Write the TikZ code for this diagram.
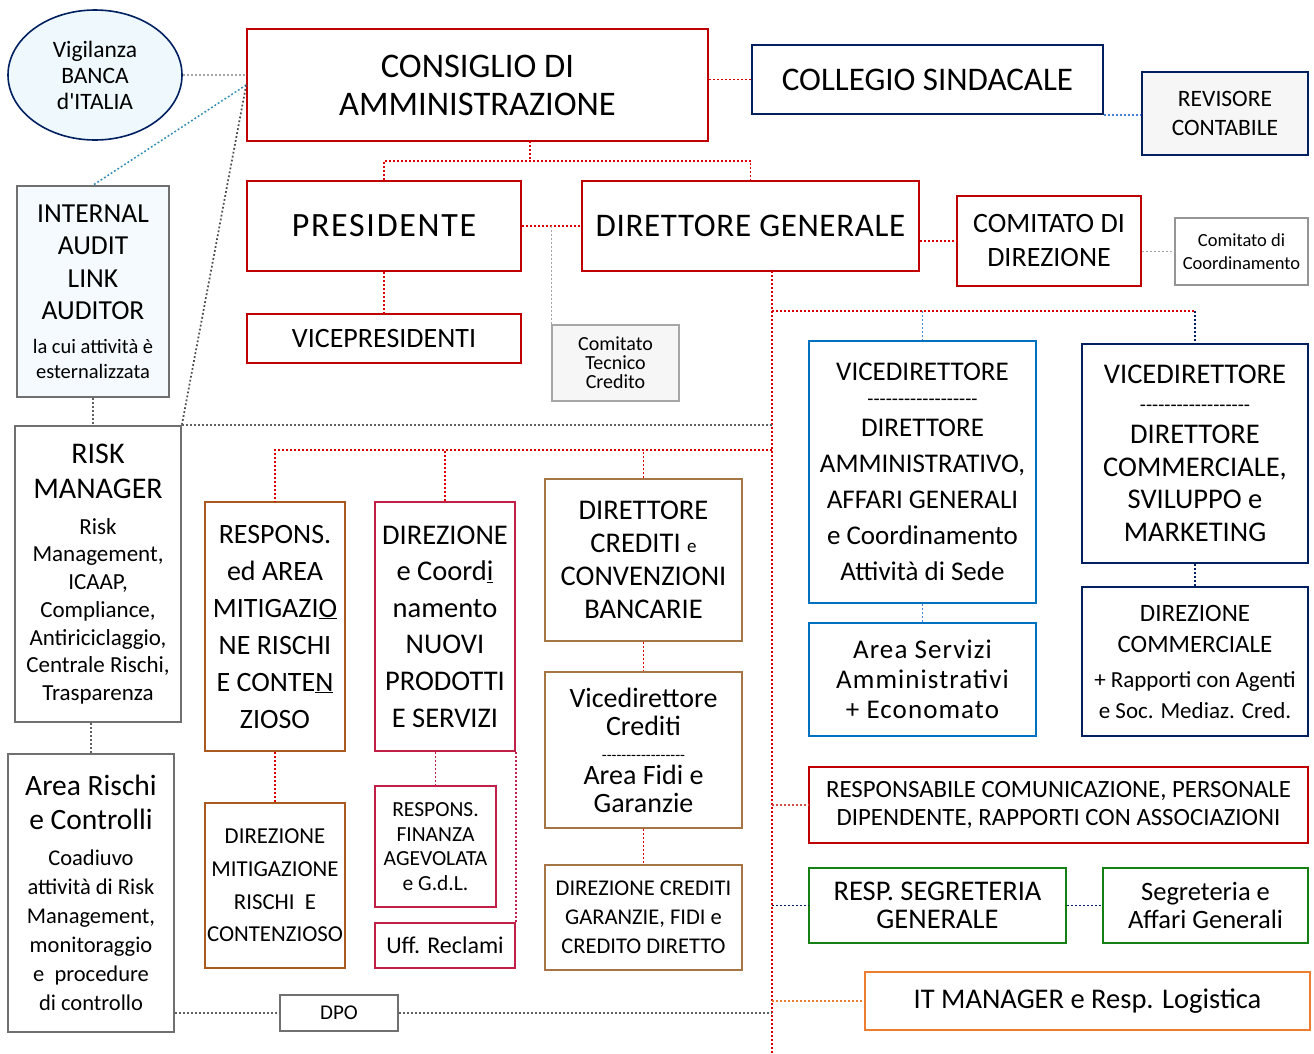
\documentclass[tikz,border=0pt]{standalone}
\usepackage{fontspec}
\setmainfont{Carlito}[Ligatures=TeXOff]
\usetikzlibrary{shapes.geometric,calc}
\definecolor{cdared}{RGB}{192,0,0}
\definecolor{linkred}{RGB}{222,0,0}
\definecolor{navy}{RGB}{0,32,96}
\definecolor{midblue}{RGB}{0,112,192}
\definecolor{rustbrown}{RGB}{170,90,30}
\definecolor{tanbrown}{RGB}{166,117,70}
\definecolor{crimson}{RGB}{192,32,72}
\definecolor{deepgreen}{RGB}{20,128,20}
\definecolor{itorange}{RGB}{237,125,49}
\definecolor{boxgray}{RGB}{112,112,112}
\definecolor{softgray}{RGB}{166,166,166}
\definecolor{tealdot}{RGB}{50,140,180}
\definecolor{skyfill}{RGB}{238,248,253}
\definecolor{iafill}{RGB}{244,250,253}
\definecolor{paper}{RGB}{246,246,246}
\definecolor{linkblue}{RGB}{70,130,215}
\newcommand{\fsz}[2]{\fontsize{#1}{#2}\selectfont}
\newcommand{\dashrow}[1]{\foreach\k in {1,...,#1}{-\kern0pt}}
\tikzset{
  box/.style={draw, line width=1.6pt, inner sep=0pt, align=center},
  sz/.style 2 args={minimum width=#1pt, minimum height=#2pt},
  redbox/.style={box, draw=cdared},
  navybox/.style={box, draw=navy},
  bluebox/.style={box, draw=midblue},
  rustbox/.style={box, draw=rustbrown},
  tanbox/.style={box, draw=tanbrown},
  crimbox/.style={box, draw=crimson},
  greenbox/.style={box, draw=deepgreen},
  greybox/.style={box, draw=boxgray},
  link/.style={line width=1.8pt, dash pattern=on 1.8pt off 2.2pt},
  redlink/.style={link, linkred},
  crimlink/.style={link, line width=1.5pt, crimson},
  pinklink/.style={link, line width=1.5pt, cdared!70},
  bluelink/.style={link, line width=1.5pt, linkblue},
  navylink/.style={link, line width=1.7pt, navy},
  orangelink/.style={link, line width=1.7pt, itorange},
  teallink/.style={link, line width=1.5pt, tealdot},
  greylink/.style={link, line width=1.5pt, black!62},
  lightlink/.style={link, line width=1.4pt, gray!70},
  darklink/.style={link, line width=1.7pt, black!70}
}
\begin{document}
\begin{tikzpicture}[x=1pt,y=-1pt]
\useasboundingbox (0,0) rectangle (1314,1053);
\fill[white] (0,0) rectangle (1314,1053);
%board and control bodies
\node[shape=ellipse, draw=navy, fill=skyfill, line width=1.6pt, inner sep=0pt, align=center, sz={174}{130}, font=\fsz{23.5}{26}] (vig) at (95,75) {Vigilanza\\BANCA\\d'ITALIA};
\node[redbox, sz={461}{112}, font=\fsz{34.5}{38}] (cda) at (477.5,85) {CONSIGLIO DI\\AMMINISTRAZIONE};
\node[navybox, sz={351}{69}, font=\fsz{33}{36}] (coll) at (927.5,79.5) {COLLEGIO SINDACALE};
\node[navybox, fill=paper, sz={166}{83}, font=\fsz{23.5}{29}] (rev) at (1225,113.5) {REVISORE\\CONTABILE};
%direction
\node[redbox, sz={274}{90}, font=\fsz{34}{38}\addfontfeature{LetterSpace=5}] (pres) at (384,226) {PRESIDENTE};
\node[redbox, sz={337}{90}, font=\fsz{33}{38}\addfontfeature{LetterSpace=2}] (dg) at (750.5,226) {DIRETTORE GENERALE};
\node[redbox, sz={184}{90}, font=\fsz{28}{34}] (cdir) at (1049,241) {COMITATO DI\\DIREZIONE};
\node[box, draw=softgray!90!black, sz={133}{67}, font=\fsz{18.5}{23}] (ccoord) at (1241.5,251.5) {Comitato di\\Coordinamento};
\node[redbox, sz={274}{49}, font=\fsz{28}{30}] (vicep) at (384,338.5) {VICEPRESIDENTI};
\node[box, draw=softgray, fill=paper, sz={127}{76}, font=\fsz{20}{19}] (ctc) at (615.5,363) {Comitato\\Tecnico\\Credito};
%controls column
\node[greybox, fill=iafill, sz={152}{211}, font=\fsz{27.5}{32.5}] (ia) at (93,291.5) {INTERNAL\\AUDIT\\LINK\\AUDITOR\\[1pt]\fsz{20.5}{24}la cui attività è\\[-7.5pt]\fsz{20.5}{24}esternalizzata};
\node[greybox, sz={166}{296}, font=\fsz{30}{35}] (rm) at (98,574) {RISK\\MANAGER\\[1pt]\fsz{23}{24}Risk\\[-7.3pt]\fsz{23}{24}Management,\\[-7.3pt]\fsz{23}{24}ICAAP,\\[-7.3pt]\fsz{23}{24}Compliance,\\[-7.3pt]\fsz{23}{24}Antiriciclaggio,\\[-7.3pt]\fsz{23}{24}Centrale Rischi,\\[-7.3pt]\fsz{23}{24}Trasparenza};
\node[greybox, sz={166}{278}, font=\fsz{29.5}{34}] (arc) at (91,893) {Area Rischi\\e Controlli\\[2pt]\fsz{22.5}{24}Coadiuvo\\[-5pt]\fsz{22.5}{24}attività di Risk\\[-5pt]\fsz{22.5}{24}Management,\\[-5pt]\fsz{22.5}{24}monitoraggio\\[-5pt]\fsz{22.5}{24}e~ procedure\\[-5pt]\fsz{22.5}{24}di controllo};
\node[greybox, sz={118}{36}, font=\fsz{21}{22}] (dpo) at (339,1013) {DPO};
%credit and risk offices
\node[rustbox, sz={140}{249}, font=\fsz{28}{37}] (resp) at (275,626.5) {RESPONS.\\ed AREA\\MITIGAZI\underline{O}\\NE RISCHI\\E CONTE\underline{N}\\ZIOSO};
\node[rustbox, sz={140}{165}, font=\fsz{22.8}{32.7}] (dmr) at (275,885.5) {DIREZIONE\\MITIGAZIONE\\RISCHI~ E\\CONTENZIOSO};
\node[crimbox, sz={140}{249}, font=\fsz{28.5}{36.6}] (dnp) at (445,626.5) {DIREZIONE\\e Coord\underline{i}\\namento\\NUOVI\\PRODOTTI\\E SERVIZI};
\node[crimbox, sz={121}{121}, font=\fsz{21.5}{24.7}] (rfa) at (435.5,846.5) {RESPONS.\\FINANZA\\AGEVOLATA\\e G.d.L.};
\node[crimbox, sz={140}{45}, font=\fsz{24}{26}] (ufr) at (445,945.5) {Uff. Reclami};
\node[tanbox, sz={197}{162}, font=\fsz{28.5}{33}] (dcc) at (643.5,560) {DIRETTORE\\CREDITI {\fsz{19}{20}e}\\CONVENZIONI\\BANCARIE};
\node[tanbox, sz={197}{156}, font=\fsz{28}{28}] (vdc) at (643.5,750) {Vicedirettore\\Crediti\\[-3pt]\fsz{16}{18}\dashrow{17}\\[-4pt]Area Fidi e\\Garanzie};
\node[tanbox, sz={197}{105}, font=\fsz{22.5}{29}] (dcg) at (643.5,917.5) {DIREZIONE CREDITI\\GARANZIE, FIDI e\\CREDITO DIRETTO};
%vice directors
\node[bluebox, sz={227}{262}, font=\fsz{27}{36}] (vda) at (922.5,472) {VICEDIRETTORE\\[-11pt]\fsz{20}{24}\dashrow{18}\\[-5pt]DIRETTORE\\AMMINISTRATIVO,\\AFFARI GENERALI\\e Coordinamento\\Attività di Sede};
\node[bluebox, sz={227}{113}, font=\fsz{27}{30}\addfontfeature{LetterSpace=4}] (asa) at (922.5,679.5) {Area Servizi\\Amministrativi\\+ Economato};
\node[navybox, sz={226}{219}, font=\fsz{28.5}{32.5}] (vdm) at (1195,453.5) {VICEDIRETTORE\\[-5pt]\fsz{20}{24}\dashrow{18}\\DIRETTORE\\COMMERCIALE,\\SVILUPPO e\\MARKETING};
\node[navybox, sz={226}{149}, font=\fsz{25}{31}] (dcm) at (1195,661.5) {DIREZIONE\\COMMERCIALE\\[4pt]\fsz{23}{24}+ Rapporti con Agenti\\\fsz{23}{24}e Soc. Mediaz. Cred.};
%staff offices
\node[redbox, sz={499}{76}, font=\fsz{24.8}{28}] (rcp) at (1058.5,805) {RESPONSABILE COMUNICAZIONE, PERSONALE\\DIPENDENTE, RAPPORTI CON ASSOCIAZIONI};
\node[greenbox, sz={257}{75}, font=\fsz{28.5}{28}] (rsg) at (937.5,905.5) {RESP. SEGRETERIA\\GENERALE};
\node[greenbox, sz={205}{75}, font=\fsz{26.5}{28}] (sag) at (1205.5,905.5) {Segreteria e\\Affari Generali};
\node[box, draw=itorange, sz={445}{58}, font=\fsz{28.5}{30}] (itm) at (1087.5,1001) {IT MANAGER e Resp. Logistica};
%links from the board
\draw[lightlink] (vig.east) -- (vig.east -| cda.west);
\draw[teallink] (cda.west) -- (ia.north);
\draw[darklink] (cda.west) -- (rm.north east);
\draw[redlink] (coll.west -| cda.east) -- (coll.west);
\draw[bluelink] (coll.south east) -- (coll.south east -| rev.west);
\coordinate (cdaout) at (530,141);
\coordinate (bus1) at (530,161);
\draw[redlink] (cdaout) -- (bus1);
\draw[redlink] (pres.north) |- (bus1) -| (dg.north);
\draw[redlink] (pres.east) -- (pres.east -| dg.west);
\draw[lightlink] (ctc.north west) -- (ctc.north west |- pres.east);
\draw[redlink] (pres.south) -- (vicep.north);
\draw[redlink] (cdir.west -| dg.east) -- (cdir.west);
\draw[lightlink] (ccoord.west -| cdir.east) -- (ccoord.west);
%spine under the general director
\coordinate (dgout) at (772,271);
\coordinate (spineend) at (772,1053);
\draw[redlink] (dgout) -- (spineend);
%right branch
\coordinate (bus2) at (772,311);
\draw[redlink] (bus2) -- (bus2 -| vdm.north);
\draw[bluelink] (vda.north |- bus2) -- (vda.north);
\draw[navylink] (vdm.north |- bus2) -- (vdm.north);
\draw[bluelink] (vda.south) -- (asa.north);
\draw[navylink] (vdm.south) -- (dcm.north);
%left branch
\coordinate (bus3) at (772,450);
\draw[redlink] (bus3) -| (resp.north);
\draw[redlink] (dnp.north) -- (dnp.north |- bus3);
\draw[redlink] (dcc.north) -- (dcc.north |- bus3);
\draw[redlink] (resp.south) -- (dmr.north);
\draw[crimlink] (rfa.north |- dnp.south) -- (rfa.north);
\draw[crimlink] (dnp.south east) -- (ufr.north east);
\draw[redlink] (dcc.south) -- (vdc.north);
\draw[redlink] (vdc.south) -- (dcg.north);
%risk and controls
\draw[greylink] (rm.north east) -- (rm.north east -| spineend);
\draw[greylink] (ia.south) -- (ia.south |- rm.north);
\draw[greylink] (arc.north |- rm.south) -- (arc.north);
\draw[greylink] (dpo.west -| arc.east) -- (dpo.west);
\draw[greylink] (dpo.east) -- (dpo.east -| spineend);
%staff offices
\draw[pinklink] (rcp.west -| spineend) -- (rcp.west);
\draw[navylink] (rsg.west -| spineend) -- (rsg.west);
\draw[navylink] (rsg.east) -- (sag.west);
\draw[orangelink] (itm.west -| spineend) -- (itm.west);
\end{tikzpicture}
\end{document}
